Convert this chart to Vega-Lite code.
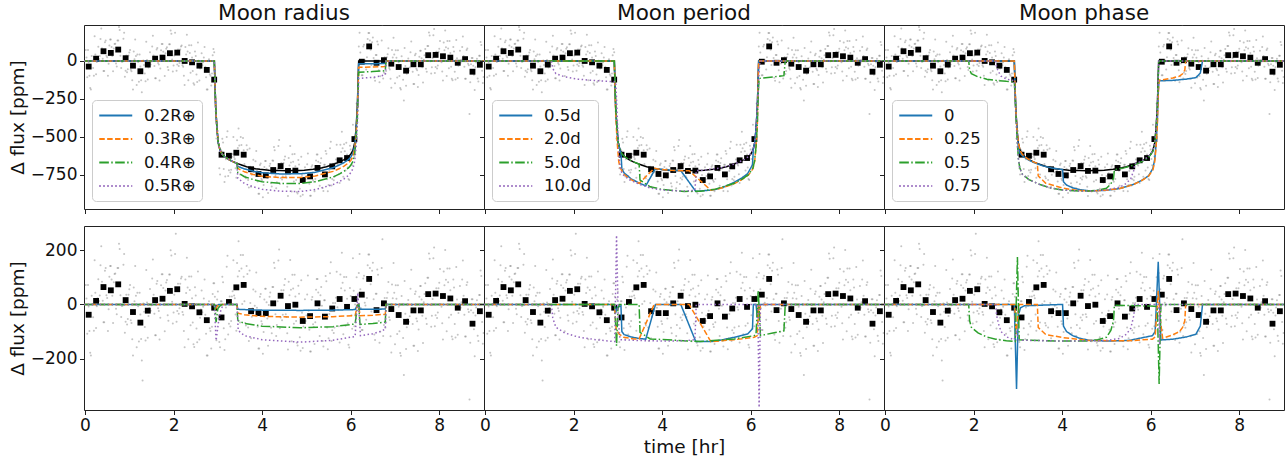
{
  "$schema": "https://vega.github.io/schema/vega-lite/v6.json",
  "padding": {"left": 7, "top": 2, "right": 0, "bottom": 0},
  "bounds": "flush",
  "columns": 3,
  "spacing": {"row": 17, "column": 0},
  "datasets": {
    "pts": [
      {"t":0.017,"top":72,"bot":72},{"t":0.05,"top":-108,"bot":-108},{"t":0.083,"top":-8,"bot":-8},{"t":0.117,"top":-178,"bot":-178},{"t":0.15,"top":32,"bot":32},
      {"t":0.183,"top":-47,"bot":-47},{"t":0.217,"top":163,"bot":163},{"t":0.25,"top":-87,"bot":-87},{"t":0.283,"top":23,"bot":23},{"t":0.317,"top":13,"bot":13},
      {"t":0.35,"top":144,"bot":144},{"t":0.383,"top":84,"bot":84},{"t":0.417,"top":-66,"bot":-66},{"t":0.45,"top":124,"bot":124},{"t":0.483,"top":34,"bot":34},
      {"t":0.517,"top":-98,"bot":-98},{"t":0.55,"top":102,"bot":102},{"t":0.583,"top":142,"bot":142},{"t":0.617,"top":32,"bot":32},{"t":0.65,"top":82,"bot":82},
      {"t":0.683,"top":114,"bot":114},{"t":0.717,"top":-36,"bot":-36},{"t":0.75,"top":134,"bot":134},{"t":0.783,"top":204,"bot":204},{"t":0.817,"top":-46,"bot":-46},
      {"t":0.85,"top":-4,"bot":-4},{"t":0.883,"top":186,"bot":186},{"t":0.917,"top":-64,"bot":-64},{"t":0.95,"top":-74,"bot":-74},{"t":0.983,"top":36,"bot":36},
      {"t":1.017,"top":72,"bot":72},{"t":1.05,"top":-68,"bot":-68},{"t":1.083,"top":-188,"bot":-188},{"t":1.117,"top":12,"bot":12},{"t":1.15,"top":32,"bot":32},
      {"t":1.183,"top":43,"bot":43},{"t":1.217,"top":-137,"bot":-137},{"t":1.25,"top":-37,"bot":-37},{"t":1.283,"top":-207,"bot":-207},{"t":1.317,"top":3,"bot":3},
      {"t":1.35,"top":-83,"bot":-83},{"t":1.383,"top":127,"bot":127},{"t":1.417,"top":-123,"bot":-123},{"t":1.45,"top":-13,"bot":-13},{"t":1.483,"top":-23,"bot":-23},
      {"t":1.517,"top":96,"bot":96},{"t":1.55,"top":36,"bot":36},{"t":1.583,"top":-114,"bot":-114},{"t":1.617,"top":76,"bot":76},{"t":1.65,"top":-14,"bot":-14},
      {"t":1.683,"top":-129,"bot":-129},{"t":1.717,"top":71,"bot":71},{"t":1.75,"top":111,"bot":111},{"t":1.783,"top":1,"bot":1},{"t":1.817,"top":51,"bot":51},
      {"t":1.85,"top":90,"bot":90},{"t":1.883,"top":-60,"bot":-60},{"t":1.917,"top":110,"bot":110},{"t":1.95,"top":180,"bot":180},{"t":1.983,"top":-70,"bot":-70},
      {"t":2.017,"top":36,"bot":36},{"t":2.05,"top":260,"bot":260},{"t":2.083,"top":-24,"bot":-24},{"t":2.117,"top":-34,"bot":-34},{"t":2.15,"top":76,"bot":76},
      {"t":2.183,"top":102,"bot":102},{"t":2.217,"top":-38,"bot":-38},{"t":2.25,"top":-158,"bot":-158},{"t":2.283,"top":42,"bot":42},{"t":2.317,"top":62,"bot":62},
      {"t":2.35,"top":103,"bot":103},{"t":2.383,"top":-77,"bot":-77},{"t":2.417,"top":23,"bot":23},{"t":2.45,"top":-147,"bot":-147},{"t":2.483,"top":63,"bot":63},
      {"t":2.517,"top":-89,"bot":-89},{"t":2.55,"top":121,"bot":121},{"t":2.583,"top":-129,"bot":-129},{"t":2.617,"top":-19,"bot":-19},{"t":2.65,"top":-29,"bot":-29},
      {"t":2.683,"top":22,"bot":22},{"t":2.717,"top":-38,"bot":-38},{"t":2.75,"top":-188,"bot":-188},{"t":2.783,"top":2,"bot":2},{"t":2.817,"top":-88,"bot":-88},
      {"t":2.85,"top":-162,"bot":-162},{"t":2.883,"top":38,"bot":38},{"t":2.917,"top":58,"bot":78},{"t":2.95,"top":-332,"bot":-32},{"t":2.983,"top":-442,"bot":18},
      {"t":3.017,"top":-558,"bot":-8},{"t":3.05,"top":-748,"bot":-158},{"t":3.083,"top":-595,"bot":12},{"t":3.117,"top":-538,"bot":82},{"t":3.15,"top":-798,"bot":-168},
      {"t":3.183,"top":-648,"bot":-11},{"t":3.217,"top":-464,"bot":179},{"t":3.25,"top":-721,"bot":-71},{"t":3.283,"top":-736,"bot":-81},{"t":3.317,"top":-631,"bot":29},
      {"t":3.35,"top":-502,"bot":163},{"t":3.383,"top":-646,"bot":23},{"t":3.417,"top":-770,"bot":-97},{"t":3.45,"top":-574,"bot":103},{"t":3.483,"top":-558,"bot":123},
      {"t":3.517,"top":-502,"bot":182},{"t":3.55,"top":-686,"bot":2},{"t":3.583,"top":-589,"bot":102},{"t":3.617,"top":-762,"bot":-68},{"t":3.65,"top":-555,"bot":142},
      {"t":3.683,"top":-784,"bot":-85},{"t":3.717,"top":-577,"bot":125},{"t":3.75,"top":-829,"bot":-125},{"t":3.783,"top":-721,"bot":-15},{"t":3.817,"top":-733,"bot":-25},
      {"t":3.85,"top":-662,"bot":48},{"t":3.883,"top":-723,"bot":-12},{"t":3.917,"top":-875,"bot":-162},{"t":3.95,"top":-686,"bot":28},{"t":3.983,"top":-777,"bot":-62},
      {"t":4.017,"top":-898,"bot":-182},{"t":4.05,"top":-699,"bot":18},{"t":4.083,"top":-660,"bot":58},{"t":4.117,"top":-771,"bot":-52},{"t":4.15,"top":-722,"bot":-2},
      {"t":4.183,"top":-677,"bot":44},{"t":4.217,"top":-827,"bot":-106},{"t":4.25,"top":-658,"bot":64},{"t":4.283,"top":-588,"bot":134},{"t":4.317,"top":-839,"bot":-116},
      {"t":4.35,"top":-711,"bot":12},{"t":4.383,"top":-521,"bot":202},{"t":4.417,"top":-772,"bot":-48},{"t":4.45,"top":-782,"bot":-58},{"t":4.483,"top":-672,"bot":52},
      {"t":4.517,"top":-630,"bot":94},{"t":4.55,"top":-770,"bot":-46},{"t":4.583,"top":-890,"bot":-166},{"t":4.617,"top":-690,"bot":34},{"t":4.65,"top":-670,"bot":54},
      {"t":4.683,"top":-615,"bot":109},{"t":4.717,"top":-794,"bot":-71},{"t":4.75,"top":-694,"bot":29},{"t":4.783,"top":-864,"bot":-141},{"t":4.817,"top":-653,"bot":69},
      {"t":4.85,"top":-843,"bot":-121},{"t":4.883,"top":-632,"bot":89},{"t":4.917,"top":-882,"bot":-161},{"t":4.95,"top":-771,"bot":-51},{"t":4.983,"top":-780,"bot":-61},
      {"t":5.017,"top":-681,"bot":37},{"t":5.05,"top":-740,"bot":-23},{"t":5.083,"top":-889,"bot":-173},{"t":5.117,"top":-698,"bot":17},{"t":5.15,"top":-787,"bot":-73},
      {"t":5.183,"top":-859,"bot":-146},{"t":5.217,"top":-657,"bot":54},{"t":5.25,"top":-616,"bot":94},{"t":5.283,"top":-724,"bot":-16},{"t":5.317,"top":-672,"bot":34},
      {"t":5.35,"top":-709,"bot":-5},{"t":5.383,"top":-857,"bot":-155},{"t":5.417,"top":-684,"bot":15},{"t":5.45,"top":-612,"bot":85},{"t":5.483,"top":-859,"bot":-165},
      {"t":5.517,"top":-726,"bot":-35},{"t":5.55,"top":-533,"bot":155},{"t":5.583,"top":-779,"bot":-95},{"t":5.617,"top":-786,"bot":-105},{"t":5.65,"top":-672,"bot":5},
      {"t":5.683,"top":-553,"bot":120},{"t":5.717,"top":-689,"bot":-20},{"t":5.75,"top":-805,"bot":-140},{"t":5.783,"top":-600,"bot":60},{"t":5.817,"top":-575,"bot":80},
      {"t":5.85,"top":-549,"bot":101},{"t":5.883,"top":-722,"bot":-79},{"t":5.917,"top":-616,"bot":21},{"t":5.95,"top":-779,"bot":-149},{"t":5.983,"top":-559,"bot":61},
      {"t":6.017,"top":-647,"bot":-40},{"t":6.05,"top":-420,"bot":170},{"t":6.083,"top":-630,"bot":-80},{"t":6.117,"top":-430,"bot":30},{"t":6.15,"top":-280,"bot":20},
      {"t":6.183,"top":96,"bot":116},{"t":6.217,"top":56,"bot":56},{"t":6.25,"top":-94,"bot":-94},{"t":6.283,"top":96,"bot":96},{"t":6.317,"top":6,"bot":6},
      {"t":6.35,"top":-56,"bot":-56},{"t":6.383,"top":144,"bot":144},{"t":6.417,"top":184,"bot":184},{"t":6.45,"top":74,"bot":74},{"t":6.483,"top":124,"bot":124},
      {"t":6.517,"top":19,"bot":19},{"t":6.55,"top":-131,"bot":-131},{"t":6.583,"top":39,"bot":39},{"t":6.617,"top":109,"bot":109},{"t":6.65,"top":-141,"bot":-141},
      {"t":6.683,"top":-16,"bot":-16},{"t":6.717,"top":240,"bot":240},{"t":6.75,"top":-76,"bot":-76},{"t":6.783,"top":-86,"bot":-86},{"t":6.817,"top":24,"bot":24},
      {"t":6.85,"top":83,"bot":83},{"t":6.883,"top":-57,"bot":-57},{"t":6.917,"top":-177,"bot":-177},{"t":6.95,"top":23,"bot":23},{"t":6.983,"top":43,"bot":43},
      {"t":7.017,"top":71,"bot":71},{"t":7.05,"top":-109,"bot":-109},{"t":7.083,"top":-9,"bot":-9},{"t":7.117,"top":-179,"bot":-179},{"t":7.15,"top":31,"bot":31},
      {"t":7.183,"top":-124,"bot":-124},{"t":7.217,"top":86,"bot":86},{"t":7.25,"top":-164,"bot":-164},{"t":7.283,"top":-54,"bot":-54},{"t":7.317,"top":-64,"bot":-64},
      {"t":7.35,"top":58,"bot":58},{"t":7.383,"top":-2,"bot":-2},{"t":7.417,"top":-152,"bot":-152},{"t":7.45,"top":38,"bot":38},{"t":7.483,"top":-52,"bot":-52},
      {"t":7.517,"top":-172,"bot":-172},{"t":7.55,"top":28,"bot":28},{"t":7.583,"top":68,"bot":68},{"t":7.617,"top":-42,"bot":-42},{"t":7.65,"top":8,"bot":8},
      {"t":7.683,"top":78,"bot":78},{"t":7.717,"top":-72,"bot":-72},{"t":7.75,"top":98,"bot":98},{"t":7.783,"top":168,"bot":168},{"t":7.817,"top":-82,"bot":-82},
      {"t":7.85,"top":20,"bot":20},{"t":7.883,"top":210,"bot":210},{"t":7.917,"top":-40,"bot":-40},{"t":7.95,"top":-50,"bot":-50},{"t":7.983,"top":60,"bot":60},
      {"t":8.017,"top":131,"bot":131},{"t":8.05,"top":-9,"bot":-9},{"t":8.083,"top":-129,"bot":-129},{"t":8.117,"top":71,"bot":71},{"t":8.15,"top":91,"bot":91},
      {"t":8.183,"top":132,"bot":132},{"t":8.217,"top":-48,"bot":-48},{"t":8.25,"top":52,"bot":52},{"t":8.283,"top":-118,"bot":-118},{"t":8.317,"top":92,"bot":92},
      {"t":8.35,"top":-72,"bot":-72},{"t":8.383,"top":138,"bot":138},{"t":8.417,"top":-112,"bot":-112},{"t":8.45,"top":-2,"bot":-2},{"t":8.483,"top":-12,"bot":-12},
      {"t":8.517,"top":92,"bot":92},{"t":8.55,"top":32,"bot":32},{"t":8.583,"top":-118,"bot":-118},{"t":8.617,"top":72,"bot":72},{"t":8.65,"top":-18,"bot":-18},
      {"t":8.683,"top":-350,"bot":-350},{"t":8.717,"top":-21,"bot":-21},{"t":8.75,"top":19,"bot":19},{"t":8.783,"top":-91,"bot":-91},{"t":8.817,"top":-41,"bot":-41},
      {"t":8.85,"top":15,"bot":15},{"t":8.883,"top":-135,"bot":-135},{"t":8.917,"top":35,"bot":35},{"t":8.95,"top":105,"bot":105},{"t":8.983,"top":-145,"bot":-145},

      {"t":0.033,"top":22,"bot":22},{"t":0.067,"top":72,"bot":72},{"t":0.1,"top":-98,"bot":-98},{"t":0.133,"top":-188,"bot":-188},{"t":0.167,"top":2,"bot":2},
      {"t":0.2,"top":-97,"bot":-97},{"t":0.233,"top":43,"bot":43},{"t":0.267,"top":-7,"bot":-7},{"t":0.3,"top":93,"bot":93},{"t":0.333,"top":33,"bot":33},
      {"t":0.367,"top":214,"bot":214},{"t":0.4,"top":14,"bot":14},{"t":0.433,"top":-66,"bot":-66},{"t":0.467,"top":134,"bot":134},{"t":0.5,"top":24,"bot":24},
      {"t":0.533,"top":-18,"bot":-18},{"t":0.567,"top":142,"bot":142},{"t":0.6,"top":92,"bot":92},{"t":0.633,"top":-68,"bot":-68},{"t":0.667,"top":112,"bot":112},
      {"t":0.7,"top":-16,"bot":-16},{"t":0.733,"top":134,"bot":134},{"t":0.767,"top":224,"bot":224},{"t":0.8,"top":34,"bot":34},{"t":0.833,"top":-6,"bot":-6},
      {"t":0.867,"top":146,"bot":146},{"t":0.9,"top":-104,"bot":-104},{"t":0.933,"top":36,"bot":36},{"t":0.967,"top":-54,"bot":-54},{"t":1.0,"top":56,"bot":56},
      {"t":1.033,"top":-58,"bot":-58},{"t":1.067,"top":-128,"bot":-128},{"t":1.1,"top":62,"bot":62},{"t":1.133,"top":142,"bot":142},{"t":1.167,"top":-158,"bot":-158},
      {"t":1.2,"top":-7,"bot":-7},{"t":1.233,"top":43,"bot":43},{"t":1.267,"top":-127,"bot":-127},{"t":1.3,"top":-280,"bot":-280},{"t":1.333,"top":-27,"bot":-27},
      {"t":1.367,"top":-133,"bot":-133},{"t":1.4,"top":7,"bot":7},{"t":1.433,"top":-43,"bot":-43},{"t":1.467,"top":57,"bot":57},{"t":1.5,"top":-3,"bot":-3},
      {"t":1.533,"top":166,"bot":166},{"t":1.567,"top":-34,"bot":-34},{"t":1.6,"top":-114,"bot":-114},{"t":1.633,"top":86,"bot":86},{"t":1.667,"top":-24,"bot":-24},
      {"t":1.7,"top":-49,"bot":-49},{"t":1.733,"top":111,"bot":111},{"t":1.767,"top":61,"bot":61},{"t":1.8,"top":-99,"bot":-99},{"t":1.833,"top":81,"bot":81},
      {"t":1.867,"top":-40,"bot":-40},{"t":1.9,"top":110,"bot":110},{"t":1.933,"top":200,"bot":200},{"t":1.967,"top":10,"bot":10},{"t":2.0,"top":-30,"bot":-30},
      {"t":2.033,"top":186,"bot":186},{"t":2.067,"top":-64,"bot":-64},{"t":2.1,"top":76,"bot":76},{"t":2.133,"top":-14,"bot":-14},{"t":2.167,"top":96,"bot":96},
      {"t":2.2,"top":-28,"bot":-28},{"t":2.233,"top":-98,"bot":-98},{"t":2.267,"top":92,"bot":92},{"t":2.3,"top":172,"bot":172},{"t":2.333,"top":-128,"bot":-128},
      {"t":2.367,"top":53,"bot":53},{"t":2.4,"top":103,"bot":103},{"t":2.433,"top":-67,"bot":-67},{"t":2.467,"top":-157,"bot":-157},{"t":2.5,"top":33,"bot":33},
      {"t":2.533,"top":-139,"bot":-139},{"t":2.567,"top":1,"bot":1},{"t":2.6,"top":-49,"bot":-49},{"t":2.633,"top":51,"bot":51},{"t":2.667,"top":-9,"bot":-9},
      {"t":2.7,"top":92,"bot":92},{"t":2.733,"top":-108,"bot":-108},{"t":2.767,"top":-188,"bot":-188},{"t":2.8,"top":12,"bot":12},{"t":2.833,"top":-98,"bot":-98},
      {"t":2.867,"top":-82,"bot":-82},{"t":2.9,"top":78,"bot":78},{"t":2.933,"top":-102,"bot":28},{"t":2.967,"top":-512,"bot":-132},{"t":3.0,"top":-462,"bot":48},
      {"t":3.033,"top":-708,"bot":-138},{"t":3.067,"top":-586,"bot":12},{"t":3.1,"top":-513,"bot":102},{"t":3.133,"top":-713,"bot":-88},{"t":3.167,"top":-761,"bot":-128},
      {"t":3.2,"top":-501,"bot":139},{"t":3.233,"top":-758,"bot":-111},{"t":3.267,"top":-624,"bot":29},{"t":3.3,"top":-718,"bot":-61},{"t":3.333,"top":-613,"bot":49},
      {"t":3.367,"top":-634,"bot":33},{"t":3.4,"top":-708,"bot":-37},{"t":3.433,"top":-522,"bot":153},{"t":3.467,"top":-446,"bot":233},{"t":3.5,"top":-749,"bot":-67},
      {"t":3.533,"top":-554,"bot":132},{"t":3.567,"top":-508,"bot":182},{"t":3.6,"top":-680,"bot":12},{"t":3.633,"top":-773,"bot":-78},{"t":3.667,"top":-586,"bot":112},
      {"t":3.7,"top":-835,"bot":-135},{"t":3.733,"top":-698,"bot":5},{"t":3.767,"top":-750,"bot":-45},{"t":3.8,"top":-652,"bot":55},{"t":3.833,"top":-714,"bot":-5},
      {"t":3.867,"top":-593,"bot":118},{"t":3.9,"top":-794,"bot":-82},{"t":3.933,"top":-875,"bot":-162},{"t":3.967,"top":-676,"bot":38},{"t":4.0,"top":-787,"bot":-72},
      {"t":4.033,"top":-818,"bot":-102},{"t":4.067,"top":-659,"bot":58},{"t":4.1,"top":-710,"bot":8},{"t":4.133,"top":-871,"bot":-152},{"t":4.167,"top":-692,"bot":28},
      {"t":4.2,"top":-807,"bot":-86},{"t":4.233,"top":-657,"bot":64},{"t":4.267,"top":-568,"bot":154},{"t":4.3,"top":-758,"bot":-36},{"t":4.333,"top":-799,"bot":-76},
      {"t":4.367,"top":-561,"bot":162},{"t":4.4,"top":-811,"bot":-88},{"t":4.433,"top":-672,"bot":52},{"t":4.467,"top":-762,"bot":-38},{"t":4.5,"top":-652,"bot":72},
      {"t":4.533,"top":-760,"bot":-36},{"t":4.567,"top":-830,"bot":-106},{"t":4.6,"top":-640,"bot":84},{"t":4.633,"top":-560,"bot":164},{"t":4.667,"top":-860,"bot":-136},
      {"t":4.7,"top":-664,"bot":59},{"t":4.733,"top":-614,"bot":109},{"t":4.767,"top":-784,"bot":-61},{"t":4.8,"top":-873,"bot":-151},{"t":4.833,"top":-683,"bot":39},
      {"t":4.867,"top":-892,"bot":-171},{"t":4.9,"top":-752,"bot":-31},{"t":4.933,"top":-801,"bot":-81},{"t":4.967,"top":-700,"bot":19},{"t":5.0,"top":-759,"bot":-41},
      {"t":5.033,"top":-610,"bot":107},{"t":5.067,"top":-809,"bot":-93},{"t":5.1,"top":-888,"bot":-173},{"t":5.133,"top":-687,"bot":27},{"t":5.167,"top":-796,"bot":-83},
      {"t":5.2,"top":-778,"bot":-66},{"t":5.233,"top":-617,"bot":94},{"t":5.267,"top":-665,"bot":44},{"t":5.3,"top":-823,"bot":-116},{"t":5.333,"top":-641,"bot":64},
      {"t":5.367,"top":-838,"bot":-135},{"t":5.4,"top":-685,"bot":15},{"t":5.433,"top":-593,"bot":105},{"t":5.467,"top":-780,"bot":-85},{"t":5.5,"top":-817,"bot":-125},
      {"t":5.533,"top":-575,"bot":115},{"t":5.567,"top":-821,"bot":-135},{"t":5.6,"top":-677,"bot":5},{"t":5.633,"top":-764,"bot":-85},{"t":5.667,"top":-650,"bot":25},
      {"t":5.7,"top":-681,"bot":-10},{"t":5.733,"top":-747,"bot":-80},{"t":5.767,"top":-552,"bot":110},{"t":5.8,"top":-467,"bot":190},{"t":5.833,"top":-763,"bot":-110},
      {"t":5.867,"top":-596,"bot":51},{"t":5.9,"top":-539,"bot":101},{"t":5.933,"top":-702,"bot":-69},{"t":5.967,"top":-784,"bot":-159},{"t":6.0,"top":-584,"bot":31},
      {"t":6.033,"top":-688,"bot":-90},{"t":6.067,"top":-520,"bot":50},{"t":6.1,"top":-510,"bot":0},{"t":6.133,"top":-280,"bot":100},{"t":6.167,"top":-90,"bot":40},
      {"t":6.2,"top":186,"bot":186},{"t":6.233,"top":-14,"bot":-14},{"t":6.267,"top":-94,"bot":-94},{"t":6.3,"top":106,"bot":106},{"t":6.333,"top":-4,"bot":-4},
      {"t":6.367,"top":24,"bot":24},{"t":6.4,"top":184,"bot":184},{"t":6.433,"top":134,"bot":134},{"t":6.467,"top":-26,"bot":-26},{"t":6.5,"top":154,"bot":154},
      {"t":6.533,"top":-111,"bot":-111},{"t":6.567,"top":39,"bot":39},{"t":6.6,"top":129,"bot":129},{"t":6.633,"top":-61,"bot":-61},{"t":6.667,"top":-101,"bot":-101},
      {"t":6.7,"top":134,"bot":134},{"t":6.733,"top":-116,"bot":-116},{"t":6.767,"top":24,"bot":24},{"t":6.8,"top":-66,"bot":-66},{"t":6.833,"top":44,"bot":44},
      {"t":6.867,"top":-47,"bot":-47},{"t":6.9,"top":-117,"bot":-117},{"t":6.933,"top":73,"bot":73},{"t":6.967,"top":153,"bot":153},{"t":7.0,"top":-147,"bot":-147},
      {"t":7.033,"top":21,"bot":21},{"t":7.067,"top":71,"bot":71},{"t":7.1,"top":-99,"bot":-99},{"t":7.133,"top":-189,"bot":-189},{"t":7.167,"top":1,"bot":1},
      {"t":7.2,"top":-260,"bot":-260},{"t":7.233,"top":-34,"bot":-34},{"t":7.267,"top":-84,"bot":-84},{"t":7.3,"top":16,"bot":16},{"t":7.333,"top":-44,"bot":-44},
      {"t":7.367,"top":128,"bot":128},{"t":7.4,"top":-72,"bot":-72},{"t":7.433,"top":-152,"bot":-152},{"t":7.467,"top":48,"bot":48},{"t":7.5,"top":-62,"bot":-62},
      {"t":7.533,"top":-92,"bot":-92},{"t":7.567,"top":68,"bot":68},{"t":7.6,"top":18,"bot":18},{"t":7.633,"top":-142,"bot":-142},{"t":7.667,"top":38,"bot":38},
      {"t":7.7,"top":-52,"bot":-52},{"t":7.733,"top":98,"bot":98},{"t":7.767,"top":188,"bot":188},{"t":7.8,"top":-2,"bot":-2},{"t":7.833,"top":-42,"bot":-42},
      {"t":7.867,"top":170,"bot":170},{"t":7.9,"top":-80,"bot":-80},{"t":7.933,"top":60,"bot":60},{"t":7.967,"top":-30,"bot":-30},{"t":8.0,"top":80,"bot":80},
      {"t":8.033,"top":1,"bot":1},{"t":8.067,"top":-69,"bot":-69},{"t":8.1,"top":121,"bot":121},{"t":8.133,"top":201,"bot":201},{"t":8.167,"top":-99,"bot":-99},
      {"t":8.2,"top":82,"bot":82},{"t":8.233,"top":132,"bot":132},{"t":8.267,"top":-38,"bot":-38},{"t":8.3,"top":-128,"bot":-128},{"t":8.333,"top":62,"bot":62},
      {"t":8.367,"top":-122,"bot":-122},{"t":8.4,"top":18,"bot":18},{"t":8.433,"top":-32,"bot":-32},{"t":8.467,"top":68,"bot":68},{"t":8.5,"top":8,"bot":8},
      {"t":8.533,"top":162,"bot":162},{"t":8.567,"top":-38,"bot":-38},{"t":8.6,"top":-118,"bot":-118},{"t":8.633,"top":82,"bot":82},{"t":8.667,"top":-28,"bot":-28},
      {"t":8.7,"top":-141,"bot":-141},{"t":8.733,"top":19,"bot":19},{"t":8.767,"top":-31,"bot":-31},{"t":8.8,"top":-191,"bot":-191},{"t":8.833,"top":-11,"bot":-11},
      {"t":8.867,"top":-115,"bot":-115},{"t":8.9,"top":35,"bot":35},{"t":8.933,"top":125,"bot":125},{"t":8.967,"top":-65,"bot":-65},{"t":9.0,"top":-105,"bot":-105}
    ],
    "bins": [
      {"t":0.083,"top":-37,"bot":-38},{"t":0.25,"top":15,"bot":13},{"t":0.417,"top":64,"bot":64},{"t":0.583,"top":53,"bot":52},{"t":0.75,"top":75,"bot":74},
      {"t":0.917,"top":18,"bot":16},{"t":1.083,"top":-31,"bot":-28},{"t":1.25,"top":-68,"bot":-67},{"t":1.417,"top":-24,"bot":-23},{"t":1.583,"top":15,"bot":16},
      {"t":1.75,"top":22,"bot":21},{"t":1.917,"top":51,"bot":50},{"t":2.083,"top":55,"bot":56},{"t":2.25,"top":0,"bot":2},{"t":2.417,"top":-9,"bot":-7},
      {"t":2.583,"top":-31,"bot":-29},{"t":2.75,"top":-59,"bot":-58},{"t":2.917,"top":-123,"bot":-12},{"t":3.083,"top":-618,"bot":-48},{"t":3.25,"top":-625,"bot":9},
      {"t":3.417,"top":-605,"bot":63},{"t":3.583,"top":-618,"bot":72},{"t":3.75,"top":-714,"bot":-25},{"t":3.917,"top":-745,"bot":-32},{"t":4.083,"top":-754,"bot":-32},
      {"t":4.25,"top":-719,"bot":4},{"t":4.417,"top":-693,"bot":32},{"t":4.583,"top":-725,"bot":-6},{"t":4.75,"top":-723,"bot":-1},{"t":4.917,"top":-785,"bot":-61},
      {"t":5.083,"top":-761,"bot":-43},{"t":5.25,"top":-705,"bot":4},{"t":5.417,"top":-748,"bot":-45},{"t":5.583,"top":-695,"bot":-15},{"t":5.75,"top":-655,"bot":20},
      {"t":5.917,"top":-640,"bot":-9},{"t":6.083,"top":-515,"bot":20},{"t":6.25,"top":-5,"bot":36},{"t":6.417,"top":96,"bot":94},{"t":6.583,"top":-12,"bot":-21},
      {"t":6.75,"top":5,"bot":4},{"t":6.917,"top":-18,"bot":-17},{"t":7.083,"top":-40,"bot":-39},{"t":7.25,"top":-64,"bot":-64},{"t":7.417,"top":-22,"bot":-22},
      {"t":7.583,"top":-22,"bot":-22},{"t":7.75,"top":38,"bot":38},{"t":7.917,"top":40,"bot":40},{"t":8.083,"top":31,"bot":31},{"t":8.25,"top":22,"bot":22},
      {"t":8.417,"top":-12,"bot":-12},{"t":8.583,"top":12,"bot":12},{"t":8.75,"top":-71,"bot":-71},{"t":8.917,"top":-25,"bot":-25}
    ],
    "model": [
      {"t":-0.03,"top":0},{"t":2.92,"top":0},{"t":2.93,"top":-100},{"t":2.95,"top":-300},{"t":2.98,"top":-450},{"t":3.01,"top":-540},{"t":3.05,"top":-590},
      {"t":3.10,"top":-615},{"t":3.15,"top":-630},{"t":3.25,"top":-650},{"t":3.35,"top":-665},{"t":3.45,"top":-677},{"t":3.55,"top":-688},{"t":3.65,"top":-697},
      {"t":3.75,"top":-704},{"t":3.85,"top":-710},{"t":3.95,"top":-714},{"t":4.05,"top":-717},{"t":4.15,"top":-720},{"t":4.25,"top":-722},{"t":4.40,"top":-723},
      {"t":4.55,"top":-724},{"t":4.70,"top":-723},{"t":4.85,"top":-722},{"t":4.95,"top":-720},{"t":5.05,"top":-717},{"t":5.15,"top":-714},{"t":5.25,"top":-710},
      {"t":5.35,"top":-704},{"t":5.45,"top":-697},{"t":5.55,"top":-688},{"t":5.65,"top":-677},{"t":5.75,"top":-665},{"t":5.85,"top":-650},{"t":5.95,"top":-630},
      {"t":6.00,"top":-615},{"t":6.05,"top":-590},{"t":6.09,"top":-540},{"t":6.12,"top":-450},{"t":6.15,"top":-300},{"t":6.17,"top":-100},{"t":6.18,"top":0},{"t":9.05,"top":0}
    ],
    "lines": [
      {"p":"radius","k":"0.2R⊕","t":-0.03,"top":0},{"p":"radius","k":"0.2R⊕","t":2.92,"top":0},{"p":"radius","k":"0.2R⊕","t":2.93,"top":-100},{"p":"radius","k":"0.2R⊕","t":2.95,"top":-300},{"p":"radius","k":"0.2R⊕","t":2.98,"top":-450},{"p":"radius","k":"0.2R⊕","t":3.01,"top":-540},{"p":"radius","k":"0.2R⊕","t":3.05,"top":-590},{"p":"radius","k":"0.2R⊕","t":3.10,"top":-615},{"p":"radius","k":"0.2R⊕","t":3.15,"top":-630},{"p":"radius","k":"0.2R⊕","t":3.25,"top":-650},{"p":"radius","k":"0.2R⊕","t":3.35,"top":-665},
      {"p":"radius","k":"0.2R⊕","t":3.43,"top":-675},{"p":"radius","k":"0.2R⊕","t":3.45,"top":-695},{"p":"radius","k":"0.2R⊕","t":3.6,"top":-712},{"p":"radius","k":"0.2R⊕","t":3.8,"top":-727},{"p":"radius","k":"0.2R⊕","t":4.0,"top":-737},{"p":"radius","k":"0.2R⊕","t":4.4,"top":-745},{"p":"radius","k":"0.2R⊕","t":4.86,"top":-744},{"p":"radius","k":"0.2R⊕","t":5.2,"top":-734},{"p":"radius","k":"0.2R⊕","t":5.6,"top":-704},{"p":"radius","k":"0.2R⊕","t":5.75,"top":-685},{"p":"radius","k":"0.2R⊕","t":5.85,"top":-670},{"p":"radius","k":"0.2R⊕","t":5.95,"top":-650},{"p":"radius","k":"0.2R⊕","t":6.0,"top":-634},{"p":"radius","k":"0.2R⊕","t":6.05,"top":-609},{"p":"radius","k":"0.2R⊕","t":6.09,"top":-559},{"p":"radius","k":"0.2R⊕","t":6.12,"top":-469},{"p":"radius","k":"0.2R⊕","t":6.15,"top":-319},{"p":"radius","k":"0.2R⊕","t":6.17,"top":-119},{"p":"radius","k":"0.2R⊕","t":6.18,"top":-18},{"p":"radius","k":"0.2R⊕","t":6.5,"top":-18},{"p":"radius","k":"0.2R⊕","t":6.78,"top":-17},{"p":"radius","k":"0.2R⊕","t":6.8,"top":0},{"p":"radius","k":"0.2R⊕","t":9.05,"top":0},

      {"p":"radius","k":"0.3R⊕","t":-0.03,"top":0},{"p":"radius","k":"0.3R⊕","t":2.92,"top":0},{"p":"radius","k":"0.3R⊕","t":2.93,"top":-100},{"p":"radius","k":"0.3R⊕","t":2.95,"top":-300},{"p":"radius","k":"0.3R⊕","t":2.98,"top":-450},{"p":"radius","k":"0.3R⊕","t":3.01,"top":-540},{"p":"radius","k":"0.3R⊕","t":3.05,"top":-590},{"p":"radius","k":"0.3R⊕","t":3.10,"top":-615},{"p":"radius","k":"0.3R⊕","t":3.15,"top":-630},{"p":"radius","k":"0.3R⊕","t":3.25,"top":-650},{"p":"radius","k":"0.3R⊕","t":3.35,"top":-665},
      {"p":"radius","k":"0.3R⊕","t":3.43,"top":-675},{"p":"radius","k":"0.3R⊕","t":3.45,"top":-709},{"p":"radius","k":"0.3R⊕","t":3.6,"top":-731},{"p":"radius","k":"0.3R⊕","t":3.8,"top":-748},{"p":"radius","k":"0.3R⊕","t":4.0,"top":-760},{"p":"radius","k":"0.3R⊕","t":4.4,"top":-769},{"p":"radius","k":"0.3R⊕","t":4.86,"top":-769},{"p":"radius","k":"0.3R⊕","t":5.2,"top":-758},{"p":"radius","k":"0.3R⊕","t":5.6,"top":-728},{"p":"radius","k":"0.3R⊕","t":5.75,"top":-709},{"p":"radius","k":"0.3R⊕","t":5.85,"top":-693},{"p":"radius","k":"0.3R⊕","t":5.95,"top":-672},{"p":"radius","k":"0.3R⊕","t":6.0,"top":-656},{"p":"radius","k":"0.3R⊕","t":6.05,"top":-631},{"p":"radius","k":"0.3R⊕","t":6.09,"top":-581},{"p":"radius","k":"0.3R⊕","t":6.12,"top":-491},{"p":"radius","k":"0.3R⊕","t":6.15,"top":-341},{"p":"radius","k":"0.3R⊕","t":6.17,"top":-141},{"p":"radius","k":"0.3R⊕","t":6.18,"top":-42},{"p":"radius","k":"0.3R⊕","t":6.5,"top":-40},{"p":"radius","k":"0.3R⊕","t":6.78,"top":-36},{"p":"radius","k":"0.3R⊕","t":6.8,"top":0},{"p":"radius","k":"0.3R⊕","t":9.05,"top":0},

      {"p":"radius","k":"0.4R⊕","t":-0.03,"top":0},{"p":"radius","k":"0.4R⊕","t":2.92,"top":0},{"p":"radius","k":"0.4R⊕","t":2.93,"top":-100},{"p":"radius","k":"0.4R⊕","t":2.95,"top":-300},{"p":"radius","k":"0.4R⊕","t":2.98,"top":-450},{"p":"radius","k":"0.4R⊕","t":3.01,"top":-540},{"p":"radius","k":"0.4R⊕","t":3.05,"top":-590},{"p":"radius","k":"0.4R⊕","t":3.10,"top":-615},{"p":"radius","k":"0.4R⊕","t":3.15,"top":-630},{"p":"radius","k":"0.4R⊕","t":3.25,"top":-650},{"p":"radius","k":"0.4R⊕","t":3.35,"top":-665},
      {"p":"radius","k":"0.4R⊕","t":3.43,"top":-675},{"p":"radius","k":"0.4R⊕","t":3.45,"top":-736},{"p":"radius","k":"0.4R⊕","t":3.6,"top":-763},{"p":"radius","k":"0.4R⊕","t":3.8,"top":-782},{"p":"radius","k":"0.4R⊕","t":4.0,"top":-796},{"p":"radius","k":"0.4R⊕","t":4.4,"top":-807},{"p":"radius","k":"0.4R⊕","t":4.86,"top":-808},{"p":"radius","k":"0.4R⊕","t":5.2,"top":-796},{"p":"radius","k":"0.4R⊕","t":5.6,"top":-765},{"p":"radius","k":"0.4R⊕","t":5.75,"top":-744},{"p":"radius","k":"0.4R⊕","t":5.85,"top":-727},{"p":"radius","k":"0.4R⊕","t":5.95,"top":-705},{"p":"radius","k":"0.4R⊕","t":6.0,"top":-688},{"p":"radius","k":"0.4R⊕","t":6.05,"top":-662},{"p":"radius","k":"0.4R⊕","t":6.09,"top":-612},{"p":"radius","k":"0.4R⊕","t":6.12,"top":-522},{"p":"radius","k":"0.4R⊕","t":6.15,"top":-372},{"p":"radius","k":"0.4R⊕","t":6.17,"top":-172},{"p":"radius","k":"0.4R⊕","t":6.18,"top":-74},{"p":"radius","k":"0.4R⊕","t":6.5,"top":-70},{"p":"radius","k":"0.4R⊕","t":6.78,"top":-65},{"p":"radius","k":"0.4R⊕","t":6.8,"top":0},{"p":"radius","k":"0.4R⊕","t":9.05,"top":0},

      {"p":"radius","k":"0.5R⊕","t":-0.03,"top":0},{"p":"radius","k":"0.5R⊕","t":2.92,"top":0},{"p":"radius","k":"0.5R⊕","t":2.93,"top":-100},{"p":"radius","k":"0.5R⊕","t":2.95,"top":-300},{"p":"radius","k":"0.5R⊕","t":2.98,"top":-450},{"p":"radius","k":"0.5R⊕","t":3.01,"top":-540},{"p":"radius","k":"0.5R⊕","t":3.05,"top":-590},{"p":"radius","k":"0.5R⊕","t":3.10,"top":-615},{"p":"radius","k":"0.5R⊕","t":3.15,"top":-630},{"p":"radius","k":"0.5R⊕","t":3.25,"top":-650},{"p":"radius","k":"0.5R⊕","t":3.35,"top":-665},
      {"p":"radius","k":"0.5R⊕","t":3.43,"top":-675},{"p":"radius","k":"0.5R⊕","t":3.45,"top":-773},{"p":"radius","k":"0.5R⊕","t":3.6,"top":-808},{"p":"radius","k":"0.5R⊕","t":3.8,"top":-830},{"p":"radius","k":"0.5R⊕","t":4.0,"top":-846},{"p":"radius","k":"0.5R⊕","t":4.4,"top":-858},{"p":"radius","k":"0.5R⊕","t":4.86,"top":-861},{"p":"radius","k":"0.5R⊕","t":5.2,"top":-848},{"p":"radius","k":"0.5R⊕","t":5.6,"top":-815},{"p":"radius","k":"0.5R⊕","t":5.75,"top":-794},{"p":"radius","k":"0.5R⊕","t":5.85,"top":-777},{"p":"radius","k":"0.5R⊕","t":5.95,"top":-754},{"p":"radius","k":"0.5R⊕","t":6.0,"top":-737},{"p":"radius","k":"0.5R⊕","t":6.05,"top":-710},{"p":"radius","k":"0.5R⊕","t":6.09,"top":-660},{"p":"radius","k":"0.5R⊕","t":6.12,"top":-570},{"p":"radius","k":"0.5R⊕","t":6.15,"top":-420},{"p":"radius","k":"0.5R⊕","t":6.17,"top":-220},{"p":"radius","k":"0.5R⊕","t":6.18,"top":-115},{"p":"radius","k":"0.5R⊕","t":6.5,"top":-108},{"p":"radius","k":"0.5R⊕","t":6.7,"top":-98},{"p":"radius","k":"0.5R⊕","t":6.78,"top":-90},{"p":"radius","k":"0.5R⊕","t":6.8,"top":0},{"p":"radius","k":"0.5R⊕","t":9.05,"top":0},

      {"p":"radius","k":"0.2R⊕","t":-0.03,"bot":0},{"p":"radius","k":"0.2R⊕","t":2.92,"bot":0},{"p":"radius","k":"0.2R⊕","t":2.95,"bot":-10},{"p":"radius","k":"0.2R⊕","t":2.98,"bot":-5},{"p":"radius","k":"0.2R⊕","t":3.02,"bot":0},{"p":"radius","k":"0.2R⊕","t":3.43,"bot":0},{"p":"radius","k":"0.2R⊕","t":3.45,"bot":-18},{"p":"radius","k":"0.2R⊕","t":3.6,"bot":-19},{"p":"radius","k":"0.2R⊕","t":4.0,"bot":-21},{"p":"radius","k":"0.2R⊕","t":4.86,"bot":-22},{"p":"radius","k":"0.2R⊕","t":5.6,"bot":-21},{"p":"radius","k":"0.2R⊕","t":6.1,"bot":-19},{"p":"radius","k":"0.2R⊕","t":6.15,"bot":-2},{"p":"radius","k":"0.2R⊕","t":6.18,"bot":0},{"p":"radius","k":"0.2R⊕","t":6.21,"bot":-18},{"p":"radius","k":"0.2R⊕","t":6.5,"bot":-18},{"p":"radius","k":"0.2R⊕","t":6.78,"bot":-17},{"p":"radius","k":"0.2R⊕","t":6.8,"bot":0},{"p":"radius","k":"0.2R⊕","t":9.05,"bot":0},
      {"p":"radius","k":"0.3R⊕","t":-0.03,"bot":0},{"p":"radius","k":"0.3R⊕","t":2.92,"bot":0},{"p":"radius","k":"0.3R⊕","t":2.95,"bot":-16},{"p":"radius","k":"0.3R⊕","t":2.99,"bot":-5},{"p":"radius","k":"0.3R⊕","t":3.03,"bot":0},{"p":"radius","k":"0.3R⊕","t":3.43,"bot":0},{"p":"radius","k":"0.3R⊕","t":3.45,"bot":-32},{"p":"radius","k":"0.3R⊕","t":3.6,"bot":-38},{"p":"radius","k":"0.3R⊕","t":4.0,"bot":-44},{"p":"radius","k":"0.3R⊕","t":4.86,"bot":-47},{"p":"radius","k":"0.3R⊕","t":5.6,"bot":-45},{"p":"radius","k":"0.3R⊕","t":6.1,"bot":-41},{"p":"radius","k":"0.3R⊕","t":6.15,"bot":-3},{"p":"radius","k":"0.3R⊕","t":6.18,"bot":0},{"p":"radius","k":"0.3R⊕","t":6.21,"bot":-42},{"p":"radius","k":"0.3R⊕","t":6.5,"bot":-40},{"p":"radius","k":"0.3R⊕","t":6.78,"bot":-36},{"p":"radius","k":"0.3R⊕","t":6.8,"bot":0},{"p":"radius","k":"0.3R⊕","t":9.05,"bot":0},
      {"p":"radius","k":"0.4R⊕","t":-0.03,"bot":0},{"p":"radius","k":"0.4R⊕","t":2.92,"bot":0},{"p":"radius","k":"0.4R⊕","t":2.96,"bot":-65},{"p":"radius","k":"0.4R⊕","t":3.0,"bot":-15},{"p":"radius","k":"0.4R⊕","t":3.05,"bot":-5},{"p":"radius","k":"0.4R⊕","t":3.1,"bot":0},{"p":"radius","k":"0.4R⊕","t":3.43,"bot":0},{"p":"radius","k":"0.4R⊕","t":3.45,"bot":-59},{"p":"radius","k":"0.4R⊕","t":3.6,"bot":-70},{"p":"radius","k":"0.4R⊕","t":4.0,"bot":-80},{"p":"radius","k":"0.4R⊕","t":4.86,"bot":-86},{"p":"radius","k":"0.4R⊕","t":5.6,"bot":-82},{"p":"radius","k":"0.4R⊕","t":6.1,"bot":-72},{"p":"radius","k":"0.4R⊕","t":6.15,"bot":-5},{"p":"radius","k":"0.4R⊕","t":6.18,"bot":0},{"p":"radius","k":"0.4R⊕","t":6.21,"bot":-74},{"p":"radius","k":"0.4R⊕","t":6.5,"bot":-70},{"p":"radius","k":"0.4R⊕","t":6.78,"bot":-65},{"p":"radius","k":"0.4R⊕","t":6.8,"bot":0},{"p":"radius","k":"0.4R⊕","t":9.05,"bot":0},
      {"p":"radius","k":"0.5R⊕","t":-0.03,"bot":0},{"p":"radius","k":"0.5R⊕","t":2.92,"bot":0},{"p":"radius","k":"0.5R⊕","t":2.96,"bot":-133},{"p":"radius","k":"0.5R⊕","t":3.01,"bot":-70},{"p":"radius","k":"0.5R⊕","t":3.05,"bot":-30},{"p":"radius","k":"0.5R⊕","t":3.1,"bot":-8},{"p":"radius","k":"0.5R⊕","t":3.15,"bot":0},{"p":"radius","k":"0.5R⊕","t":3.43,"bot":0},{"p":"radius","k":"0.5R⊕","t":3.46,"bot":-96},{"p":"radius","k":"0.5R⊕","t":3.6,"bot":-115},{"p":"radius","k":"0.5R⊕","t":4.0,"bot":-130},{"p":"radius","k":"0.5R⊕","t":4.86,"bot":-139},{"p":"radius","k":"0.5R⊕","t":5.6,"bot":-132},{"p":"radius","k":"0.5R⊕","t":6.1,"bot":-118},{"p":"radius","k":"0.5R⊕","t":6.16,"bot":42},{"p":"radius","k":"0.5R⊕","t":6.22,"bot":-115},{"p":"radius","k":"0.5R⊕","t":6.5,"bot":-108},{"p":"radius","k":"0.5R⊕","t":6.7,"bot":-98},{"p":"radius","k":"0.5R⊕","t":6.78,"bot":-90},{"p":"radius","k":"0.5R⊕","t":6.8,"bot":0},{"p":"radius","k":"0.5R⊕","t":9.05,"bot":0},

      {"p":"period","k":"0.5d","t":-0.03,"top":0},{"p":"period","k":"0.5d","t":2.92,"top":0},{"p":"period","k":"0.5d","t":2.93,"top":-100},{"p":"period","k":"0.5d","t":2.95,"top":-300},{"p":"period","k":"0.5d","t":2.98,"top":-450},{"p":"period","k":"0.5d","t":3.01,"top":-540},{"p":"period","k":"0.5d","t":3.05,"top":-590},{"p":"period","k":"0.5d","t":3.07,"top":-605},{"p":"period","k":"0.5d","t":3.09,"top":-710},{"p":"period","k":"0.5d","t":3.14,"top":-738},{"p":"period","k":"0.5d","t":3.3,"top":-777},{"p":"period","k":"0.5d","t":3.5,"top":-808},{"p":"period","k":"0.5d","t":3.63,"top":-823},{"p":"period","k":"0.5d","t":3.85,"top":-710},{"p":"period","k":"0.5d","t":4.0,"top":-716},{"p":"period","k":"0.5d","t":4.2,"top":-721},{"p":"period","k":"0.5d","t":4.42,"top":-723},{"p":"period","k":"0.5d","t":4.76,"top":-860},{"p":"period","k":"0.5d","t":5.0,"top":-854},{"p":"period","k":"0.5d","t":5.2,"top":-848},{"p":"period","k":"0.5d","t":5.4,"top":-830},{"p":"period","k":"0.5d","t":5.63,"top":-800},{"p":"period","k":"0.5d","t":5.8,"top":-772},{"p":"period","k":"0.5d","t":5.93,"top":-743},{"p":"period","k":"0.5d","t":6.04,"top":-685},{"p":"period","k":"0.5d","t":6.06,"top":-578},{"p":"period","k":"0.5d","t":6.09,"top":-540},{"p":"period","k":"0.5d","t":6.12,"top":-450},{"p":"period","k":"0.5d","t":6.15,"top":-300},{"p":"period","k":"0.5d","t":6.17,"top":-100},{"p":"period","k":"0.5d","t":6.18,"top":0},{"p":"period","k":"0.5d","t":9.05,"top":0},
      {"p":"period","k":"2.0d","t":-0.03,"top":0},{"p":"period","k":"2.0d","t":2.92,"top":0},{"p":"period","k":"2.0d","t":2.93,"top":-110},{"p":"period","k":"2.0d","t":2.95,"top":-330},{"p":"period","k":"2.0d","t":2.98,"top":-520},{"p":"period","k":"2.0d","t":3.02,"top":-663},{"p":"period","k":"2.0d","t":3.05,"top":-703},{"p":"period","k":"2.0d","t":3.13,"top":-745},{"p":"period","k":"2.0d","t":3.25,"top":-774},{"p":"period","k":"2.0d","t":3.36,"top":-792},{"p":"period","k":"2.0d","t":3.48,"top":-807},{"p":"period","k":"2.0d","t":3.82,"top":-708},{"p":"period","k":"2.0d","t":4.0,"top":-716},{"p":"period","k":"2.0d","t":4.2,"top":-721},{"p":"period","k":"2.0d","t":4.61,"top":-724},{"p":"period","k":"2.0d","t":5.1,"top":-852},{"p":"period","k":"2.0d","t":5.3,"top":-841},{"p":"period","k":"2.0d","t":5.63,"top":-809},{"p":"period","k":"2.0d","t":5.8,"top":-782},{"p":"period","k":"2.0d","t":5.95,"top":-752},{"p":"period","k":"2.0d","t":6.05,"top":-711},{"p":"period","k":"2.0d","t":6.09,"top":-660},{"p":"period","k":"2.0d","t":6.12,"top":-567},{"p":"period","k":"2.0d","t":6.15,"top":-415},{"p":"period","k":"2.0d","t":6.17,"top":-100},{"p":"period","k":"2.0d","t":6.18,"top":0},{"p":"period","k":"2.0d","t":9.05,"top":0},
      {"p":"period","k":"5.0d","t":-0.03,"top":0},{"p":"period","k":"5.0d","t":2.92,"top":0},{"p":"period","k":"5.0d","t":2.93,"top":-100},{"p":"period","k":"5.0d","t":2.95,"top":-300},{"p":"period","k":"5.0d","t":2.98,"top":-450},{"p":"period","k":"5.0d","t":3.01,"top":-540},{"p":"period","k":"5.0d","t":3.05,"top":-590},{"p":"period","k":"5.0d","t":3.10,"top":-615},{"p":"period","k":"5.0d","t":3.15,"top":-630},{"p":"period","k":"5.0d","t":3.25,"top":-650},{"p":"period","k":"5.0d","t":3.35,"top":-665},{"p":"period","k":"5.0d","t":3.48,"top":-680},{"p":"period","k":"5.0d","t":3.5,"top":-785},{"p":"period","k":"5.0d","t":3.73,"top":-830},{"p":"period","k":"5.0d","t":4.0,"top":-847},{"p":"period","k":"5.0d","t":4.5,"top":-860},{"p":"period","k":"5.0d","t":4.86,"top":-859},{"p":"period","k":"5.0d","t":5.2,"top":-845},{"p":"period","k":"5.0d","t":5.63,"top":-806},{"p":"period","k":"5.0d","t":5.8,"top":-780},{"p":"period","k":"5.0d","t":5.95,"top":-750},{"p":"period","k":"5.0d","t":6.05,"top":-707},{"p":"period","k":"5.0d","t":6.09,"top":-656},{"p":"period","k":"5.0d","t":6.12,"top":-565},{"p":"period","k":"5.0d","t":6.15,"top":-414},{"p":"period","k":"5.0d","t":6.17,"top":-214},{"p":"period","k":"5.0d","t":6.19,"top":-115},{"p":"period","k":"5.0d","t":6.5,"top":-105},{"p":"period","k":"5.0d","t":6.75,"top":-97},{"p":"period","k":"5.0d","t":6.78,"top":0},{"p":"period","k":"5.0d","t":9.05,"top":0},
      {"p":"period","k":"10.0d","t":-0.03,"top":0},{"p":"period","k":"10.0d","t":1.5,"top":0},{"p":"period","k":"10.0d","t":1.53,"top":-50},{"p":"period","k":"10.0d","t":1.6,"top":-84},{"p":"period","k":"10.0d","t":1.8,"top":-105},{"p":"period","k":"10.0d","t":2.1,"top":-120},{"p":"period","k":"10.0d","t":2.5,"top":-130},{"p":"period","k":"10.0d","t":2.95,"top":-137},{"p":"period","k":"10.0d","t":2.97,"top":-250},{"p":"period","k":"10.0d","t":3.0,"top":-480},{"p":"period","k":"10.0d","t":3.03,"top":-640},{"p":"period","k":"10.0d","t":3.06,"top":-715},{"p":"period","k":"10.0d","t":3.1,"top":-746},{"p":"period","k":"10.0d","t":3.25,"top":-782},{"p":"period","k":"10.0d","t":3.5,"top":-815},{"p":"period","k":"10.0d","t":3.75,"top":-838},{"p":"period","k":"10.0d","t":4.0,"top":-851},{"p":"period","k":"10.0d","t":4.5,"top":-858},{"p":"period","k":"10.0d","t":4.74,"top":-853},{"p":"period","k":"10.0d","t":4.77,"top":-723},{"p":"period","k":"10.0d","t":5.0,"top":-718},{"p":"period","k":"10.0d","t":5.3,"top":-707},{"p":"period","k":"10.0d","t":5.55,"top":-688},{"p":"period","k":"10.0d","t":5.75,"top":-665},{"p":"period","k":"10.0d","t":5.85,"top":-650},{"p":"period","k":"10.0d","t":5.95,"top":-630},{"p":"period","k":"10.0d","t":6.05,"top":-590},{"p":"period","k":"10.0d","t":6.09,"top":-540},{"p":"period","k":"10.0d","t":6.12,"top":-450},{"p":"period","k":"10.0d","t":6.15,"top":-300},{"p":"period","k":"10.0d","t":6.17,"top":-200},{"p":"period","k":"10.0d","t":6.19,"top":-60},{"p":"period","k":"10.0d","t":6.21,"top":0},{"p":"period","k":"10.0d","t":9.05,"top":0},

      {"p":"period","k":"0.5d","t":-0.03,"bot":0},{"p":"period","k":"0.5d","t":2.92,"bot":0},{"p":"period","k":"0.5d","t":2.95,"bot":-30},{"p":"period","k":"0.5d","t":2.99,"bot":-10},{"p":"period","k":"0.5d","t":3.07,"bot":-5},{"p":"period","k":"0.5d","t":3.09,"bot":-100},{"p":"period","k":"0.5d","t":3.14,"bot":-111},{"p":"period","k":"0.5d","t":3.3,"bot":-120},{"p":"period","k":"0.5d","t":3.5,"bot":-126},{"p":"period","k":"0.5d","t":3.63,"bot":-128},{"p":"period","k":"0.5d","t":3.85,"bot":0},{"p":"period","k":"0.5d","t":4.42,"bot":0},{"p":"period","k":"0.5d","t":4.76,"bot":-137},{"p":"period","k":"0.5d","t":5.2,"bot":-136},{"p":"period","k":"0.5d","t":5.63,"bot":-121},{"p":"period","k":"0.5d","t":5.93,"bot":-109},{"p":"period","k":"0.5d","t":6.04,"bot":-90},{"p":"period","k":"0.5d","t":6.06,"bot":0},{"p":"period","k":"0.5d","t":6.12,"bot":0},{"p":"period","k":"0.5d","t":6.15,"bot":-50},{"p":"period","k":"0.5d","t":6.19,"bot":0},{"p":"period","k":"0.5d","t":9.05,"bot":0},
      {"p":"period","k":"2.0d","t":-0.03,"bot":0},{"p":"period","k":"2.0d","t":2.91,"bot":0},{"p":"period","k":"2.0d","t":2.93,"bot":-18},{"p":"period","k":"2.0d","t":2.96,"bot":-90},{"p":"period","k":"2.0d","t":3.02,"bot":-108},{"p":"period","k":"2.0d","t":3.13,"bot":-121},{"p":"period","k":"2.0d","t":3.36,"bot":-127},{"p":"period","k":"2.0d","t":3.48,"bot":-127},{"p":"period","k":"2.0d","t":3.82,"bot":0},{"p":"period","k":"2.0d","t":4.61,"bot":0},{"p":"period","k":"2.0d","t":5.1,"bot":-137},{"p":"period","k":"2.0d","t":5.63,"bot":-130},{"p":"period","k":"2.0d","t":6.08,"bot":-121},{"p":"period","k":"2.0d","t":6.15,"bot":-115},{"p":"period","k":"2.0d","t":6.17,"bot":0},{"p":"period","k":"2.0d","t":6.19,"bot":-60},{"p":"period","k":"2.0d","t":6.22,"bot":0},{"p":"period","k":"2.0d","t":9.05,"bot":0},
      {"p":"period","k":"5.0d","t":-0.03,"bot":0},{"p":"period","k":"5.0d","t":2.93,"bot":0},{"p":"period","k":"5.0d","t":2.97,"bot":-152},{"p":"period","k":"5.0d","t":3.0,"bot":-20},{"p":"period","k":"5.0d","t":3.03,"bot":0},{"p":"period","k":"5.0d","t":3.48,"bot":0},{"p":"period","k":"5.0d","t":3.5,"bot":-103},{"p":"period","k":"5.0d","t":3.73,"bot":-127},{"p":"period","k":"5.0d","t":4.86,"bot":-137},{"p":"period","k":"5.0d","t":5.63,"bot":-127},{"p":"period","k":"5.0d","t":6.08,"bot":-115},{"p":"period","k":"5.0d","t":6.12,"bot":-110},{"p":"period","k":"5.0d","t":6.17,"bot":52},{"p":"period","k":"5.0d","t":6.22,"bot":-115},{"p":"period","k":"5.0d","t":6.5,"bot":-105},{"p":"period","k":"5.0d","t":6.75,"bot":-97},{"p":"period","k":"5.0d","t":6.78,"bot":0},{"p":"period","k":"5.0d","t":9.05,"bot":0},
      {"p":"period","k":"10.0d","t":-0.03,"bot":0},{"p":"period","k":"10.0d","t":1.5,"bot":0},{"p":"period","k":"10.0d","t":1.53,"bot":-50},{"p":"period","k":"10.0d","t":1.6,"bot":-84},{"p":"period","k":"10.0d","t":1.8,"bot":-105},{"p":"period","k":"10.0d","t":2.1,"bot":-120},{"p":"period","k":"10.0d","t":2.5,"bot":-130},{"p":"period","k":"10.0d","t":2.93,"bot":-137},{"p":"period","k":"10.0d","t":2.97,"bot":255},{"p":"period","k":"10.0d","t":3.01,"bot":-60},{"p":"period","k":"10.0d","t":3.05,"bot":-130},{"p":"period","k":"10.0d","t":3.5,"bot":-133},{"p":"period","k":"10.0d","t":4.0,"bot":-135},{"p":"period","k":"10.0d","t":4.5,"bot":-134},{"p":"period","k":"10.0d","t":4.74,"bot":-130},{"p":"period","k":"10.0d","t":4.77,"bot":0},{"p":"period","k":"10.0d","t":6.16,"bot":0},{"p":"period","k":"10.0d","t":6.19,"bot":-380},{"p":"period","k":"10.0d","t":6.22,"bot":0},{"p":"period","k":"10.0d","t":9.05,"bot":0},

      {"p":"phase","k":"0","t":-0.03,"top":0},{"p":"phase","k":"0","t":2.92,"top":0},{"p":"phase","k":"0","t":2.93,"top":-100},{"p":"phase","k":"0","t":2.95,"top":-300},{"p":"phase","k":"0","t":2.98,"top":-450},{"p":"phase","k":"0","t":3.01,"top":-568},{"p":"phase","k":"0","t":3.05,"top":-610},{"p":"phase","k":"0","t":3.1,"top":-625},{"p":"phase","k":"0","t":3.15,"top":-635},{"p":"phase","k":"0","t":3.25,"top":-654},{"p":"phase","k":"0","t":3.35,"top":-668},{"p":"phase","k":"0","t":3.55,"top":-690},{"p":"phase","k":"0","t":3.75,"top":-705},{"p":"phase","k":"0","t":4.01,"top":-716},{"p":"phase","k":"0","t":4.03,"top":-796},{"p":"phase","k":"0","t":4.1,"top":-818},{"p":"phase","k":"0","t":4.24,"top":-837},{"p":"phase","k":"0","t":4.4,"top":-848},{"p":"phase","k":"0","t":4.61,"top":-856},{"p":"phase","k":"0","t":5.0,"top":-853},{"p":"phase","k":"0","t":5.3,"top":-841},{"p":"phase","k":"0","t":5.6,"top":-815},{"p":"phase","k":"0","t":5.8,"top":-787},{"p":"phase","k":"0","t":5.95,"top":-758},{"p":"phase","k":"0","t":6.05,"top":-708},{"p":"phase","k":"0","t":6.09,"top":-650},{"p":"phase","k":"0","t":6.12,"top":-555},{"p":"phase","k":"0","t":6.15,"top":-400},{"p":"phase","k":"0","t":6.17,"top":-200},{"p":"phase","k":"0","t":6.19,"top":-131},{"p":"phase","k":"0","t":6.23,"top":-131},{"p":"phase","k":"0","t":6.5,"top":-128},{"p":"phase","k":"0","t":6.8,"top":-120},{"p":"phase","k":"0","t":7.02,"top":-110},{"p":"phase","k":"0","t":7.12,"top":-80},{"p":"phase","k":"0","t":7.17,"top":0},{"p":"phase","k":"0","t":9.05,"top":0},
      {"p":"phase","k":"0.25","t":-0.03,"top":0},{"p":"phase","k":"0.25","t":2.92,"top":0},{"p":"phase","k":"0.25","t":2.93,"top":-100},{"p":"phase","k":"0.25","t":2.95,"top":-300},{"p":"phase","k":"0.25","t":2.98,"top":-450},{"p":"phase","k":"0.25","t":3.01,"top":-540},{"p":"phase","k":"0.25","t":3.05,"top":-590},{"p":"phase","k":"0.25","t":3.1,"top":-615},{"p":"phase","k":"0.25","t":3.15,"top":-630},{"p":"phase","k":"0.25","t":3.25,"top":-650},{"p":"phase","k":"0.25","t":3.35,"top":-665},{"p":"phase","k":"0.25","t":3.44,"top":-676},{"p":"phase","k":"0.25","t":3.46,"top":-758},{"p":"phase","k":"0.25","t":3.63,"top":-806},{"p":"phase","k":"0.25","t":4.01,"top":-838},{"p":"phase","k":"0.25","t":4.3,"top":-852},{"p":"phase","k":"0.25","t":4.6,"top":-857},{"p":"phase","k":"0.25","t":5.0,"top":-852},{"p":"phase","k":"0.25","t":5.3,"top":-841},{"p":"phase","k":"0.25","t":5.6,"top":-816},{"p":"phase","k":"0.25","t":5.8,"top":-788},{"p":"phase","k":"0.25","t":5.95,"top":-760},{"p":"phase","k":"0.25","t":6.05,"top":-718},{"p":"phase","k":"0.25","t":6.09,"top":-664},{"p":"phase","k":"0.25","t":6.12,"top":-572},{"p":"phase","k":"0.25","t":6.15,"top":-421},{"p":"phase","k":"0.25","t":6.17,"top":-221},{"p":"phase","k":"0.25","t":6.19,"top":-125},{"p":"phase","k":"0.25","t":6.27,"top":-125},{"p":"phase","k":"0.25","t":6.5,"top":-112},{"p":"phase","k":"0.25","t":6.65,"top":-100},{"p":"phase","k":"0.25","t":6.72,"top":-85},{"p":"phase","k":"0.25","t":6.77,"top":-60},{"p":"phase","k":"0.25","t":6.79,"top":0},{"p":"phase","k":"0.25","t":9.05,"top":0},
      {"p":"phase","k":"0.5","t":-0.03,"top":0},{"p":"phase","k":"0.5","t":1.89,"top":0},{"p":"phase","k":"0.5","t":1.91,"top":-60},{"p":"phase","k":"0.5","t":1.95,"top":-84},{"p":"phase","k":"0.5","t":2.1,"top":-105},{"p":"phase","k":"0.5","t":2.3,"top":-120},{"p":"phase","k":"0.5","t":2.5,"top":-128},{"p":"phase","k":"0.5","t":2.74,"top":-134},{"p":"phase","k":"0.5","t":2.92,"top":-137},{"p":"phase","k":"0.5","t":2.95,"top":-300},{"p":"phase","k":"0.5","t":2.98,"top":-500},{"p":"phase","k":"0.5","t":3.01,"top":-640},{"p":"phase","k":"0.5","t":3.04,"top":-700},{"p":"phase","k":"0.5","t":3.07,"top":-725},{"p":"phase","k":"0.5","t":3.1,"top":-746},{"p":"phase","k":"0.5","t":3.25,"top":-782},{"p":"phase","k":"0.5","t":3.5,"top":-815},{"p":"phase","k":"0.5","t":3.75,"top":-838},{"p":"phase","k":"0.5","t":4.0,"top":-851},{"p":"phase","k":"0.5","t":4.5,"top":-859},{"p":"phase","k":"0.5","t":4.8,"top":-853},{"p":"phase","k":"0.5","t":5.0,"top":-839},{"p":"phase","k":"0.5","t":5.1,"top":-811},{"p":"phase","k":"0.5","t":5.16,"top":-774},{"p":"phase","k":"0.5","t":5.18,"top":-716},{"p":"phase","k":"0.5","t":5.4,"top":-705},{"p":"phase","k":"0.5","t":5.6,"top":-688},{"p":"phase","k":"0.5","t":5.75,"top":-670},{"p":"phase","k":"0.5","t":5.85,"top":-656},{"p":"phase","k":"0.5","t":5.95,"top":-636},{"p":"phase","k":"0.5","t":6.05,"top":-597},{"p":"phase","k":"0.5","t":6.09,"top":-547},{"p":"phase","k":"0.5","t":6.12,"top":-457},{"p":"phase","k":"0.5","t":6.15,"top":-308},{"p":"phase","k":"0.5","t":6.17,"top":-108},{"p":"phase","k":"0.5","t":6.18,"top":-8},{"p":"phase","k":"0.5","t":6.2,"top":0},{"p":"phase","k":"0.5","t":9.05,"top":0},
      {"p":"phase","k":"0.75","t":-0.03,"top":0},{"p":"phase","k":"0.75","t":2.5,"top":0},{"p":"phase","k":"0.75","t":2.52,"top":-40},{"p":"phase","k":"0.75","t":2.56,"top":-70},{"p":"phase","k":"0.75","t":2.62,"top":-100},{"p":"phase","k":"0.75","t":2.75,"top":-120},{"p":"phase","k":"0.75","t":2.92,"top":-130},{"p":"phase","k":"0.75","t":2.95,"top":-300},{"p":"phase","k":"0.75","t":2.98,"top":-500},{"p":"phase","k":"0.75","t":3.01,"top":-640},{"p":"phase","k":"0.75","t":3.04,"top":-700},{"p":"phase","k":"0.75","t":3.07,"top":-725},{"p":"phase","k":"0.75","t":3.1,"top":-747},{"p":"phase","k":"0.75","t":3.25,"top":-783},{"p":"phase","k":"0.75","t":3.5,"top":-815},{"p":"phase","k":"0.75","t":3.75,"top":-838},{"p":"phase","k":"0.75","t":4.0,"top":-851},{"p":"phase","k":"0.75","t":4.5,"top":-859},{"p":"phase","k":"0.75","t":5.0,"top":-851},{"p":"phase","k":"0.75","t":5.3,"top":-832},{"p":"phase","k":"0.75","t":5.45,"top":-807},{"p":"phase","k":"0.75","t":5.55,"top":-776},{"p":"phase","k":"0.75","t":5.62,"top":-720},{"p":"phase","k":"0.75","t":5.64,"top":-678},{"p":"phase","k":"0.75","t":5.75,"top":-665},{"p":"phase","k":"0.75","t":5.85,"top":-650},{"p":"phase","k":"0.75","t":5.95,"top":-630},{"p":"phase","k":"0.75","t":6.05,"top":-590},{"p":"phase","k":"0.75","t":6.09,"top":-540},{"p":"phase","k":"0.75","t":6.12,"top":-450},{"p":"phase","k":"0.75","t":6.15,"top":-300},{"p":"phase","k":"0.75","t":6.17,"top":-100},{"p":"phase","k":"0.75","t":6.18,"top":0},{"p":"phase","k":"0.75","t":9.05,"top":0},

      {"p":"phase","k":"0","t":-0.03,"bot":0},{"p":"phase","k":"0","t":2.92,"bot":0},{"p":"phase","k":"0","t":2.97,"bot":-312},{"p":"phase","k":"0","t":3.01,"bot":-28},{"p":"phase","k":"0","t":3.03,"bot":-30},{"p":"phase","k":"0","t":3.06,"bot":-12},{"p":"phase","k":"0","t":3.15,"bot":-5},{"p":"phase","k":"0","t":4.01,"bot":0},{"p":"phase","k":"0","t":4.03,"bot":-80},{"p":"phase","k":"0","t":4.1,"bot":-100},{"p":"phase","k":"0","t":4.24,"bot":-115},{"p":"phase","k":"0","t":4.4,"bot":-125},{"p":"phase","k":"0","t":4.61,"bot":-132},{"p":"phase","k":"0","t":5.0,"bot":-135},{"p":"phase","k":"0","t":5.5,"bot":-133},{"p":"phase","k":"0","t":6.04,"bot":-115},{"p":"phase","k":"0","t":6.1,"bot":-100},{"p":"phase","k":"0","t":6.17,"bot":157},{"p":"phase","k":"0","t":6.23,"bot":-131},{"p":"phase","k":"0","t":6.5,"bot":-128},{"p":"phase","k":"0","t":6.8,"bot":-120},{"p":"phase","k":"0","t":7.02,"bot":-110},{"p":"phase","k":"0","t":7.12,"bot":-80},{"p":"phase","k":"0","t":7.17,"bot":0},{"p":"phase","k":"0","t":9.05,"bot":0},
      {"p":"phase","k":"0.25","t":-0.03,"bot":0},{"p":"phase","k":"0.25","t":2.93,"bot":0},{"p":"phase","k":"0.25","t":2.96,"bot":-110},{"p":"phase","k":"0.25","t":3.0,"bot":-40},{"p":"phase","k":"0.25","t":3.03,"bot":0},{"p":"phase","k":"0.25","t":3.44,"bot":0},{"p":"phase","k":"0.25","t":3.46,"bot":-85},{"p":"phase","k":"0.25","t":3.63,"bot":-111},{"p":"phase","k":"0.25","t":4.01,"bot":-122},{"p":"phase","k":"0.25","t":4.6,"bot":-133},{"p":"phase","k":"0.25","t":5.5,"bot":-134},{"p":"phase","k":"0.25","t":6.04,"bot":-128},{"p":"phase","k":"0.25","t":6.1,"bot":-120},{"p":"phase","k":"0.25","t":6.17,"bot":50},{"p":"phase","k":"0.25","t":6.22,"bot":-60},{"p":"phase","k":"0.25","t":6.27,"bot":-125},{"p":"phase","k":"0.25","t":6.5,"bot":-112},{"p":"phase","k":"0.25","t":6.65,"bot":-100},{"p":"phase","k":"0.25","t":6.72,"bot":-85},{"p":"phase","k":"0.25","t":6.77,"bot":-60},{"p":"phase","k":"0.25","t":6.79,"bot":0},{"p":"phase","k":"0.25","t":9.05,"bot":0},
      {"p":"phase","k":"0.5","t":-0.03,"bot":0},{"p":"phase","k":"0.5","t":1.89,"bot":0},{"p":"phase","k":"0.5","t":1.91,"bot":-60},{"p":"phase","k":"0.5","t":1.95,"bot":-84},{"p":"phase","k":"0.5","t":2.1,"bot":-105},{"p":"phase","k":"0.5","t":2.3,"bot":-120},{"p":"phase","k":"0.5","t":2.5,"bot":-128},{"p":"phase","k":"0.5","t":2.74,"bot":-134},{"p":"phase","k":"0.5","t":2.94,"bot":-137},{"p":"phase","k":"0.5","t":2.99,"bot":175},{"p":"phase","k":"0.5","t":3.03,"bot":-130},{"p":"phase","k":"0.5","t":3.5,"bot":-133},{"p":"phase","k":"0.5","t":4.0,"bot":-135},{"p":"phase","k":"0.5","t":4.6,"bot":-135},{"p":"phase","k":"0.5","t":4.8,"bot":-130},{"p":"phase","k":"0.5","t":5.0,"bot":-121},{"p":"phase","k":"0.5","t":5.1,"bot":-96},{"p":"phase","k":"0.5","t":5.16,"bot":-60},{"p":"phase","k":"0.5","t":5.18,"bot":-3},{"p":"phase","k":"0.5","t":6.0,"bot":-6},{"p":"phase","k":"0.5","t":6.15,"bot":-8},{"p":"phase","k":"0.5","t":6.19,"bot":-293},{"p":"phase","k":"0.5","t":6.23,"bot":0},{"p":"phase","k":"0.5","t":9.05,"bot":0},
      {"p":"phase","k":"0.75","t":-0.03,"bot":0},{"p":"phase","k":"0.75","t":2.5,"bot":0},{"p":"phase","k":"0.75","t":2.52,"bot":-40},{"p":"phase","k":"0.75","t":2.56,"bot":-70},{"p":"phase","k":"0.75","t":2.62,"bot":-100},{"p":"phase","k":"0.75","t":2.75,"bot":-120},{"p":"phase","k":"0.75","t":2.92,"bot":-130},{"p":"phase","k":"0.75","t":2.96,"bot":-100},{"p":"phase","k":"0.75","t":3.02,"bot":-130},{"p":"phase","k":"0.75","t":3.1,"bot":-132},{"p":"phase","k":"0.75","t":4.0,"bot":-135},{"p":"phase","k":"0.75","t":5.0,"bot":-133},{"p":"phase","k":"0.75","t":5.3,"bot":-125},{"p":"phase","k":"0.75","t":5.45,"bot":-110},{"p":"phase","k":"0.75","t":5.55,"bot":-88},{"p":"phase","k":"0.75","t":5.62,"bot":-40},{"p":"phase","k":"0.75","t":5.64,"bot":0},{"p":"phase","k":"0.75","t":6.18,"bot":0},{"p":"phase","k":"0.75","t":6.2,"bot":-150},{"p":"phase","k":"0.75","t":6.22,"bot":0},{"p":"phase","k":"0.75","t":9.05,"bot":0}
    ]
  },
  "concat": [
    {
      "width": 400, "height": 184, "title": "Moon radius",
      "encoding": {
        "x": {"field": "t", "type": "quantitative", "scale": {"domain": [-0.023, 9.01], "nice": false, "zero": false}, "axis": {"values": [0, 2, 4, 6, 8], "labels": false, "title": null}},
        "y": {"field": "top", "type": "quantitative", "scale": {"domain": [-976, 237], "nice": false, "zero": false}, "axis": {"values": [-750, -500, -250, 0], "title": "Δ flux [ppm]"}}
      },
      "layer": [
        {"data": {"name": "pts"}, "mark": {"type": "circle", "size": 4, "color": "#8a8a8a", "opacity": 0.5, "clip": true}},
        {"data": {"name": "bins"}, "mark": {"type": "square", "size": 34, "color": "#000", "opacity": 1, "clip": true}},
        {"data": {"name": "model"}, "mark": {"type": "line", "color": "#000", "strokeWidth": 1.5, "clip": true}},
        {"data": {"name": "lines"}, "transform": [{"filter": "datum.p == 'radius' && isValid(datum.top)"}],
         "mark": {"type": "line", "strokeWidth": 1.5, "clip": true},
         "encoding": {
           "color": {"field": "k", "type": "nominal", "scale": {"domain": ["0.2R⊕", "0.3R⊕", "0.4R⊕", "0.5R⊕"], "range": ["#1f77b4", "#ff7f0e", "#2ca02c", "#9467bd"]}, "legend": {"title": null}},
           "strokeDash": {"field": "k", "type": "nominal", "scale": {"domain": ["0.2R⊕", "0.3R⊕", "0.4R⊕", "0.5R⊕"], "range": [[1, 0], [5.5, 2.4], [9.6, 2.4, 1.5, 2.4], [1.5, 2.5]]}, "legend": {"title": null}}
         }}
      ]
    },
    {
      "width": 400, "height": 184, "title": "Moon period",
      "encoding": {
        "x": {"field": "t", "type": "quantitative", "scale": {"domain": [-0.023, 9.01], "nice": false, "zero": false}, "axis": {"values": [0, 2, 4, 6, 8], "labels": false, "title": null}},
        "y": {"field": "top", "type": "quantitative", "scale": {"domain": [-976, 237], "nice": false, "zero": false}, "axis": {"values": [-750, -500, -250, 0], "labels": false, "title": null}}
      },
      "layer": [
        {"data": {"name": "pts"}, "mark": {"type": "circle", "size": 4, "color": "#8a8a8a", "opacity": 0.5, "clip": true}},
        {"data": {"name": "bins"}, "mark": {"type": "square", "size": 34, "color": "#000", "opacity": 1, "clip": true}},
        {"data": {"name": "model"}, "mark": {"type": "line", "color": "#000", "strokeWidth": 1.5, "clip": true}},
        {"data": {"name": "lines"}, "transform": [{"filter": "datum.p == 'period' && isValid(datum.top)"}],
         "mark": {"type": "line", "strokeWidth": 1.5, "clip": true},
         "encoding": {
           "color": {"field": "k", "type": "nominal", "scale": {"domain": ["0.5d", "2.0d", "5.0d", "10.0d"], "range": ["#1f77b4", "#ff7f0e", "#2ca02c", "#9467bd"]}, "legend": {"title": null}},
           "strokeDash": {"field": "k", "type": "nominal", "scale": {"domain": ["0.5d", "2.0d", "5.0d", "10.0d"], "range": [[1, 0], [5.5, 2.4], [9.6, 2.4, 1.5, 2.4], [1.5, 2.5]]}, "legend": {"title": null}}
         }}
      ]
    },
    {
      "width": 400, "height": 184, "title": "Moon phase",
      "encoding": {
        "x": {"field": "t", "type": "quantitative", "scale": {"domain": [-0.023, 9.01], "nice": false, "zero": false}, "axis": {"values": [0, 2, 4, 6, 8], "labels": false, "title": null}},
        "y": {"field": "top", "type": "quantitative", "scale": {"domain": [-976, 237], "nice": false, "zero": false}, "axis": {"values": [-750, -500, -250, 0], "labels": false, "title": null}}
      },
      "layer": [
        {"data": {"name": "pts"}, "mark": {"type": "circle", "size": 4, "color": "#8a8a8a", "opacity": 0.5, "clip": true}},
        {"data": {"name": "bins"}, "mark": {"type": "square", "size": 34, "color": "#000", "opacity": 1, "clip": true}},
        {"data": {"name": "model"}, "mark": {"type": "line", "color": "#000", "strokeWidth": 1.5, "clip": true}},
        {"data": {"name": "lines"}, "transform": [{"filter": "datum.p == 'phase' && isValid(datum.top)"}],
         "mark": {"type": "line", "strokeWidth": 1.5, "clip": true},
         "encoding": {
           "color": {"field": "k", "type": "nominal", "scale": {"domain": ["0", "0.25", "0.5", "0.75"], "range": ["#1f77b4", "#ff7f0e", "#2ca02c", "#9467bd"]}, "legend": {"title": null}},
           "strokeDash": {"field": "k", "type": "nominal", "scale": {"domain": ["0", "0.25", "0.5", "0.75"], "range": [[1, 0], [5.5, 2.4], [9.6, 2.4, 1.5, 2.4], [1.5, 2.5]]}, "legend": {"title": null}}
         }}
      ]
    },
    {
      "width": 400, "height": 184,
      "encoding": {
        "x": {"field": "t", "type": "quantitative", "scale": {"domain": [-0.023, 9.01], "nice": false, "zero": false}, "axis": {"values": [0, 2, 4, 6, 8], "title": null}},
        "y": {"field": "bot", "type": "quantitative", "scale": {"domain": [-389, 289], "nice": false, "zero": false}, "axis": {"values": [-200, 0, 200], "title": "Δ flux [ppm]"}}
      },
      "layer": [
        {"data": {"name": "pts"}, "mark": {"type": "circle", "size": 4, "color": "#8a8a8a", "opacity": 0.5, "clip": true}},
        {"data": {"name": "bins"}, "mark": {"type": "square", "size": 34, "color": "#000", "opacity": 1, "clip": true}},
        {"data": {"name": "lines"}, "transform": [{"filter": "datum.p == 'radius' && isValid(datum.bot)"}],
         "mark": {"type": "line", "strokeWidth": 1.5, "clip": true},
         "encoding": {
           "color": {"field": "k", "type": "nominal", "scale": {"domain": ["0.2R⊕", "0.3R⊕", "0.4R⊕", "0.5R⊕"], "range": ["#1f77b4", "#ff7f0e", "#2ca02c", "#9467bd"]}, "legend": null},
           "strokeDash": {"field": "k", "type": "nominal", "scale": {"domain": ["0.2R⊕", "0.3R⊕", "0.4R⊕", "0.5R⊕"], "range": [[1, 0], [5.5, 2.4], [9.6, 2.4, 1.5, 2.4], [1.5, 2.5]]}, "legend": null}
         }}
      ]
    },
    {
      "width": 400, "height": 184,
      "encoding": {
        "x": {"field": "t", "type": "quantitative", "scale": {"domain": [-0.023, 9.01], "nice": false, "zero": false}, "axis": {"values": [0, 2, 4, 6, 8], "title": "time [hr]"}},
        "y": {"field": "bot", "type": "quantitative", "scale": {"domain": [-389, 289], "nice": false, "zero": false}, "axis": {"values": [-200, 0, 200], "labels": false, "title": null}}
      },
      "layer": [
        {"data": {"name": "pts"}, "mark": {"type": "circle", "size": 4, "color": "#8a8a8a", "opacity": 0.5, "clip": true}},
        {"data": {"name": "bins"}, "mark": {"type": "square", "size": 34, "color": "#000", "opacity": 1, "clip": true}},
        {"data": {"name": "lines"}, "transform": [{"filter": "datum.p == 'period' && isValid(datum.bot)"}],
         "mark": {"type": "line", "strokeWidth": 1.5, "clip": true},
         "encoding": {
           "color": {"field": "k", "type": "nominal", "scale": {"domain": ["0.5d", "2.0d", "5.0d", "10.0d"], "range": ["#1f77b4", "#ff7f0e", "#2ca02c", "#9467bd"]}, "legend": null},
           "strokeDash": {"field": "k", "type": "nominal", "scale": {"domain": ["0.5d", "2.0d", "5.0d", "10.0d"], "range": [[1, 0], [5.5, 2.4], [9.6, 2.4, 1.5, 2.4], [1.5, 2.5]]}, "legend": null}
         }}
      ]
    },
    {
      "width": 400, "height": 184,
      "encoding": {
        "x": {"field": "t", "type": "quantitative", "scale": {"domain": [-0.023, 9.01], "nice": false, "zero": false}, "axis": {"values": [0, 2, 4, 6, 8], "title": null}},
        "y": {"field": "bot", "type": "quantitative", "scale": {"domain": [-389, 289], "nice": false, "zero": false}, "axis": {"values": [-200, 0, 200], "labels": false, "title": null}}
      },
      "layer": [
        {"data": {"name": "pts"}, "mark": {"type": "circle", "size": 4, "color": "#8a8a8a", "opacity": 0.5, "clip": true}},
        {"data": {"name": "bins"}, "mark": {"type": "square", "size": 34, "color": "#000", "opacity": 1, "clip": true}},
        {"data": {"name": "lines"}, "transform": [{"filter": "datum.p == 'phase' && isValid(datum.bot)"}],
         "mark": {"type": "line", "strokeWidth": 1.5, "clip": true},
         "encoding": {
           "color": {"field": "k", "type": "nominal", "scale": {"domain": ["0", "0.25", "0.5", "0.75"], "range": ["#1f77b4", "#ff7f0e", "#2ca02c", "#9467bd"]}, "legend": null},
           "strokeDash": {"field": "k", "type": "nominal", "scale": {"domain": ["0", "0.25", "0.5", "0.75"], "range": [[1, 0], [5.5, 2.4], [9.6, 2.4, 1.5, 2.4], [1.5, 2.5]]}, "legend": null}
         }}
      ]
    }
  ],
  "resolve": {
    "scale": {"x": "independent", "y": "independent", "color": "independent", "strokeDash": "independent"},
    "legend": {"color": "independent", "strokeDash": "independent"}
  },
  "config": {
    "font": "DejaVu Sans",
    "view": {"stroke": "#222", "strokeWidth": 1},
    "axis": {"grid": false, "domain": false, "tickColor": "#222", "tickSize": 4.5, "tickWidth": 1, "labelFontSize": 17, "labelColor": "#111", "labelPadding": 2.5, "titleFontSize": 18.5, "titleFontWeight": "normal", "titleColor": "#111"},
    "axisY": {"titlePadding": 3},
    "axisX": {"titlePadding": 4},
    "title": {"fontSize": 21.5, "fontWeight": "normal", "offset": 1, "color": "#111"},
    "legend": {"orient": "bottom-left", "offset": 8, "fillColor": "white", "strokeColor": "#ccc", "cornerRadius": 4, "padding": 6, "labelFontSize": 16.5, "labelColor": "#111", "symbolType": "M-1,0H3", "symbolSize": 272, "symbolStrokeWidth": 1.8, "rowPadding": 5.5, "labelOffset": 27, "symbolOpacity": 1}
  }
}
